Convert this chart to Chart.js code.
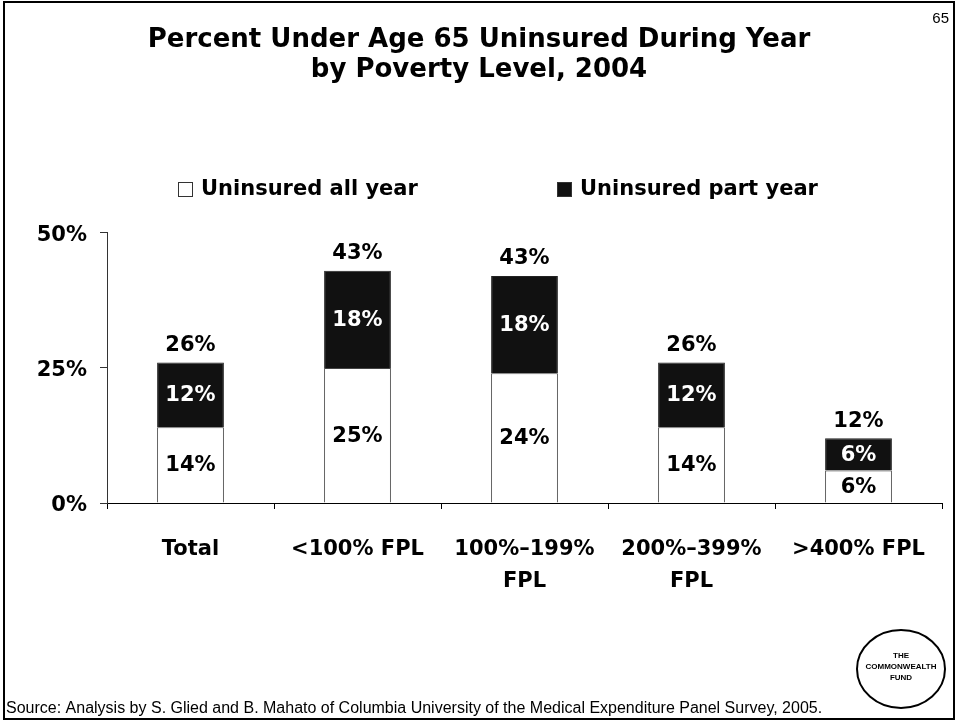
<!DOCTYPE html>
<html>
<head>
<meta charset="utf-8">
<script src="https://cdn.jsdelivr.net/npm/chart.js@4.4.1/dist/chart.umd.min.js"></script>
<style>
  html, body { margin: 0; padding: 0; background: #ffffff; }
  canvas { display: block; }
</style>
</head>
<body>
<canvas id="grafica" width="958" height="723"></canvas>
<script>
/* ============ DATOS ============ */
const categorias = ["Total", "<100% FPL", ["100%\u2013199%", "FPL"], ["200%\u2013399%", "FPL"], ">400% FPL"];
const todoElAno = [14, 25, 24, 14, 6];
const parteDelAno = [12, 18, 18, 12, 6];
const totales = [26, 43, 43, 26, 12];
const ticksY = [0, 25, 50];

const titulo = ["Percent Under Age 65 Uninsured During Year", "by Poverty Level, 2004"];
const fuente = "Source: Analysis by S. Glied and B. Mahato of Columbia University of the Medical Expenditure Panel Survey, 2005.";

const FUENTE_NEGRA = "'DejaVu Sans', sans-serif";
const FUENTE_NORMAL = "'Liberation Sans', Arial, sans-serif";

/* ============ ETIQUETAS Y DECORADO ============ */
const pluginEtiquetas = {
  id: "etiquetas",
  afterDatasetsDraw(chart) {
    const ctx = chart.ctx;
    ctx.save();
    ctx.font = "bold 21px " + FUENTE_NEGRA;
    ctx.textAlign = "center";
    ctx.textBaseline = "middle";
    chart.data.datasets.forEach((ds, i) => {
      const meta = chart.getDatasetMeta(i);
      meta.data.forEach((bar, j) => {
        const y = (bar.y + bar.base) / 2;
        ctx.fillStyle = i === 1 ? "#ffffff" : "#000000";
        ctx.fillText(ds.data[j] + "%", bar.x, y + 1);
      });
    });
    // totales arriba
    const meta = chart.getDatasetMeta(1);
    ctx.fillStyle = "#000000";
    meta.data.forEach((bar, j) => {
      ctx.fillText(totales[j] + "%", bar.x, bar.y - 17);
    });
    ctx.restore();
  }
};

const pluginDiapositiva = {
  id: "diapositiva",
  afterDraw(chart) {
    const ctx = chart.ctx;
    ctx.save();

    // marco
    ctx.strokeStyle = "#000000";
    ctx.lineWidth = 2;
    ctx.strokeRect(4, 2, 950, 717);

    // numero de pagina
    ctx.fillStyle = "#000000";
    ctx.font = "15px " + FUENTE_NORMAL;
    ctx.textAlign = "right";
    ctx.textBaseline = "middle";
    ctx.fillText("65", 949, 19);

    // leyenda
    const posLeyenda = [178, 557];
    ctx.font = "bold 21px " + FUENTE_NEGRA;
    ctx.textAlign = "left";
    chart.data.datasets.forEach((ds, i) => {
      const x = posLeyenda[i];
      ctx.fillStyle = ds.backgroundColor;
      ctx.fillRect(x, 182, 14, 14);
      ctx.lineWidth = 1;
      ctx.strokeStyle = "#333333";
      ctx.strokeRect(x + 0.5, 182.5, 14, 14);
      ctx.fillStyle = "#000000";
      ctx.fillText(ds.label, x + 23, 190);
    });

    // fuente
    ctx.font = "16px " + FUENTE_NORMAL;
    ctx.textBaseline = "alphabetic";
    ctx.fillText(fuente, 6, 713);

    // logo
    ctx.lineWidth = 2;
    ctx.strokeStyle = "#000000";
    ctx.fillStyle = "#ffffff";
    ctx.beginPath();
    ctx.ellipse(901, 669, 44, 39, 0, 0, Math.PI * 2);
    ctx.fill();
    ctx.stroke();
    ctx.fillStyle = "#000000";
    ctx.font = "bold 8px " + FUENTE_NORMAL;
    ctx.textAlign = "center";
    ctx.textBaseline = "middle";
    ctx.fillText("THE", 901, 656);
    ctx.fillText("COMMONWEALTH", 901, 667);
    ctx.fillText("FUND", 901, 678);

    ctx.restore();
  }
};

/* ============ GRAFICA ============ */
const grafica = new Chart(document.getElementById("grafica"), {
  type: "bar",
  data: {
    labels: categorias,
    datasets: [
      {
        label: "Uninsured all year",
        data: todoElAno,
        backgroundColor: "#ffffff",
        borderColor: "#444444",
        borderWidth: 1,
        categoryPercentage: 1,
        barPercentage: 0.4
      },
      {
        label: "Uninsured part year",
        data: parteDelAno,
        backgroundColor: "#111111",
        borderColor: "#222222",
        borderWidth: 1,
        categoryPercentage: 1,
        barPercentage: 0.4
      }
    ]
  },
  options: {
    responsive: false,
    animation: false,
    devicePixelRatio: 1,
    layout: { padding: { left: 16, right: 16, top: 0, bottom: 0 } },
    plugins: {
      legend: { display: false },
      tooltip: { enabled: false },
      title: {
        display: true,
        text: titulo,
        color: "#000000",
        font: { family: FUENTE_NEGRA, size: 26, weight: "bold", lineHeight: 1.15 },
        padding: { top: 25, bottom: 148 }
      }
    },
    scales: {
      x: {
        stacked: true,
        grid: { offset: true, drawOnChartArea: false, drawTicks: true, tickLength: 6, color: "#000000" },
        border: { color: "#000000" },
        ticks: {
          color: "#000000",
          font: { family: FUENTE_NEGRA, size: 21, weight: "bold", lineHeight: 1.55 },
          padding: 24,
          maxRotation: 0,
          autoSkip: false
        },
        afterFit(scale) { scale.height = 220; }
      },
      y: {
        stacked: true,
        min: 0,
        max: 50,
        afterBuildTicks(scale) { scale.ticks = ticksY.map(v => ({ value: v })); },
        grid: { drawOnChartArea: false, drawTicks: true, tickLength: 7, color: "#333333" },
        border: { color: "#333333" },
        ticks: {
          color: "#000000",
          font: { family: FUENTE_NEGRA, size: 21, weight: "bold" },
          padding: 13,
          labelOffset: 3,
          callback: v => v + "%"
        },
        afterFit(scale) { scale.width = 91; }
      }
    }
  },
  plugins: [pluginEtiquetas, pluginDiapositiva]
});
</script>
</body>
</html>
